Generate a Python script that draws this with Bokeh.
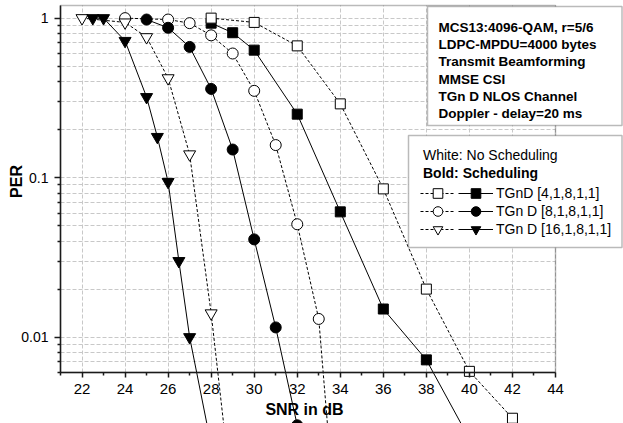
import math
from bokeh.plotting import figure
from bokeh.models import FixedTicker, Range1d, BoxAnnotation, Label, Legend, LegendItem
from bokeh.core.properties import value
from bokeh.embed import file_html
from bokeh.resources import INLINE

# ---------------- data ----------------
snr_sq_open = [28, 30, 32, 34, 36, 38, 40, 42]
per_sq_open = [1.0, 0.94, 0.67, 0.29, 0.085, 0.020, 0.0061, 0.0031]

snr_sq_fill = [28, 29, 30, 32, 34, 36, 38, 40]
per_sq_fill = [0.93, 0.81, 0.63, 0.25, 0.061, 0.015, 0.0072, 0.0023]

snr_ci_open = [24, 26, 27, 28, 29, 30, 31, 32, 33, 34]
per_ci_open = [1.0, 0.98, 0.93, 0.78, 0.60, 0.35, 0.16, 0.051, 0.013, 0.0003]

snr_ci_fill = [25, 26, 27, 28, 29, 30, 31, 32]
per_ci_fill = [0.98, 0.87, 0.66, 0.36, 0.15, 0.041, 0.0115, 0.0028]

snr_tri_open = [22, 24, 25, 26, 27, 28, 29]
per_tri_open = [1.0, 0.94, 0.76, 0.42, 0.14, 0.0141, 0.0009]

snr_tri_fill = [22.5, 23, 24, 25, 25.5, 26, 26.5, 27, 28]
per_tri_fill = [1.0, 1.0, 0.72, 0.32, 0.18, 0.094, 0.030, 0.010, 0.0021]

series_labels = ["TGnD [4,1,8,1,1]", "TGn D [8,1,8,1,1]", "TGn D [16,1,8,1,1]"]
legend_header = ["White: No Scheduling", "Bold: Scheduling"]
info_lines = [
    "MCS13:4096-QAM, r=5/6",
    "LDPC-MPDU=4000 bytes",
    "Transmit Beamforming",
    "MMSE CSI",
    "TGn D NLOS Channel",
    "Doppler - delay=20 ms",
]
x_ticks = [22, 24, 26, 28, 30, 32, 34, 36, 38, 40, 42, 44]
x_minor = [21, 23, 25, 27, 29, 31, 33, 35, 37, 39, 41, 43]
y_ticks = [0.01, 0.1, 1]
y_tick_labels = ["0.01", "0.1", "1"]
y_minor = [0.006, 0.007, 0.008, 0.009,
           0.02, 0.03, 0.04, 0.05, 0.06, 0.07, 0.08, 0.09,
           0.2, 0.3, 0.4, 0.5, 0.6, 0.7, 0.8, 0.9]
x_label = "SNR in dB"
y_label = "PER"

# ---------------- layout ----------------
W, H = 623, 423
PL, PR, PT, PB = 60, 555, 5, 372      # visible plot box (canvas px)
X0, X1 = 21, 44
Y0, Y1 = 0.006, 1.2
ppu = (PR - PL) / (X1 - X0)
ppd = (PB - PT) / math.log10(Y1 / Y0)
# the frame covers the whole canvas so that boxes, legends and marks
# outside the visible plot box are not clipped
x_range = Range1d(X0 - PL / ppu, X1 + (W - PR) / ppu)
y_range = Range1d(Y0 / 10 ** ((H - PB) / ppd), Y1 * 10 ** (PT / ppd))

FONT = "Liberation Sans"
INK = "#1a1a1a"
GRID = "#c8c8c8"


def sx(px):
    return px


def sy(py):
    return H - py


p = figure(width=W, height=H, y_axis_type="log",
           x_range=x_range, y_range=y_range,
           output_backend="svg", toolbar_location=None, tools="",
           min_border_left=0, min_border_right=0,
           min_border_top=0, min_border_bottom=0,
           outline_line_color=None,
           background_fill_color="white", border_fill_color="white")

xt = FixedTicker(ticks=x_ticks, minor_ticks=x_minor)
xa = p.xaxis[0]
xa.ticker = xt
xa.fixed_location = Y0
xa.bounds = (X0, X1)
xa.axis_line_color = INK
xa.axis_line_width = 1.5
xa.major_tick_line_color = INK
xa.major_tick_line_width = 1.5
xa.minor_tick_line_color = INK
xa.minor_tick_line_width = 1.5
xa.major_tick_in = 0
xa.major_tick_out = 5
xa.minor_tick_in = 0
xa.minor_tick_out = 3
xa.major_label_standoff = 6
xa.major_label_text_font = FONT
xa.major_label_text_font_size = "15px"
xa.major_label_text_color = "black"

yt = FixedTicker(ticks=y_ticks, minor_ticks=y_minor)
ya = p.yaxis[0]
ya.ticker = yt
ya.fixed_location = X0
ya.bounds = (Y0, Y1)
ya.major_label_overrides = dict(zip(y_ticks, y_tick_labels))
ya.axis_line_color = INK
ya.axis_line_width = 1.5
ya.major_tick_line_color = INK
ya.major_tick_line_width = 1.5
ya.minor_tick_line_color = INK
ya.minor_tick_line_width = 1.5
ya.major_tick_in = 0
ya.major_tick_out = 6
ya.minor_tick_in = 0
ya.minor_tick_out = 3
ya.major_label_standoff = 6
ya.major_label_text_font = FONT
ya.major_label_text_font_size = "14px"
ya.major_label_text_color = "black"

p.xgrid.ticker = xt
p.xgrid.bounds = (X0, X1)
p.xgrid.cross_bounds = (Y0, Y1)
p.xgrid.grid_line_color = GRID
p.xgrid.grid_line_dash = "4 2"
p.ygrid.ticker = yt
p.ygrid.bounds = (Y0, Y1)
p.ygrid.cross_bounds = (X0, X1)
p.ygrid.grid_line_color = GRID
p.ygrid.grid_line_dash = "4 2"
p.ygrid.minor_grid_line_color = GRID
p.ygrid.minor_grid_line_dash = "4 2"

# plot box (top & right borders)
p.add_layout(BoxAnnotation(left=X0, right=X1, bottom=Y0, top=Y1,
                           fill_alpha=0, line_color=INK, line_width=1.5))

# ---------------- series ----------------
def series(xs, ys, marker, size, filled):
    dash = "solid" if filled else "3 2"
    ln = p.line(xs, ys, line_color="black", line_width=1, line_dash=dash)
    sc = p.scatter(xs, ys, marker=marker, size=size,
                   fill_color="black" if filled else "white",
                   line_color="black", line_width=1)
    return ln, sc

r_sq_f = series(snr_sq_fill, per_sq_fill, "square", 10, True)
r_sq_o = series(snr_sq_open, per_sq_open, "square", 10, False)
r_ci_o = series(snr_ci_open, per_ci_open, "circle", 11, False)
r_ci_f = series(snr_ci_fill, per_ci_fill, "circle", 11, True)
r_tr_o = series(snr_tri_open, per_tri_open, "inverted_triangle", 12, False)
r_tr_f = series(snr_tri_fill, per_tri_fill, "inverted_triangle", 12, True)

# ---------------- axis titles ----------------
p.add_layout(Label(x=sx(304), y=sy(409), x_units="screen", y_units="screen",
                   text=x_label, text_font=FONT, text_font_style="bold",
                   text_font_size="16px", text_align="center", text_baseline="middle",
                   text_color="black"))
p.add_layout(Label(x=sx(16), y=sy(181), x_units="screen", y_units="screen",
                   text=y_label, text_font=FONT, text_font_style="bold",
                   text_font_size="16px", text_align="center", text_baseline="middle",
                   angle=math.pi / 2, text_color="black"))

# ---------------- info box ----------------
box_units = dict(left_units="screen", right_units="screen",
                 top_units="screen", bottom_units="screen")
p.add_layout(BoxAnnotation(left=sx(427), right=sx(621.5), top=sy(6), bottom=sy(125),
                           fill_color="white", fill_alpha=1,
                           line_color=INK, line_width=1.5, **box_units))
for i, t in enumerate(info_lines):
    p.add_layout(Label(x=sx(438), y=sy(26.7 + 17.3 * i), x_units="screen", y_units="screen",
                       text=t, text_font=FONT, text_font_style="bold",
                       text_font_size="13.5px", text_baseline="middle", text_color="black"))

# ---------------- legend box ----------------
p.add_layout(BoxAnnotation(left=sx(408), right=sx(621.5), top=sy(135), bottom=sy(247),
                           fill_color="white", fill_alpha=1,
                           line_color=INK, line_width=1.5, **box_units))
for i, t in enumerate(legend_header):
    p.add_layout(Label(x=sx(422.5), y=sy(154 + 18.2 * i), x_units="screen", y_units="screen",
                       text=t, text_font=FONT,
                       text_font_style="bold" if i == 1 else "normal",
                       text_font_size="14px", text_baseline="middle", text_color="black"))

open_r = [r_sq_o, r_ci_o, r_tr_o]
fill_r = [r_sq_f, r_ci_f, r_tr_f]
GH = 24
for i, (t, ro, rf) in enumerate(zip(series_labels, open_r, fill_r)):
    cy = 193 + 18 * i
    leg = Legend(items=[LegendItem(label=value(""), renderers=list(ro)),
                        LegendItem(label=value(t), renderers=list(rf))],
                 orientation="horizontal",
                 location=(sx(420), sy(cy + GH / 2)),
                 glyph_width=35, glyph_height=GH, label_height=GH, label_width=0,
                 label_standoff=3, spacing=0, padding=0, margin=0,
                 background_fill_alpha=0, border_line_alpha=0,
                 label_text_font=FONT, label_text_font_size="14px",
                 label_text_color="black")
    p.add_layout(leg)

open("out.html", "w").write(file_html(p, INLINE))
